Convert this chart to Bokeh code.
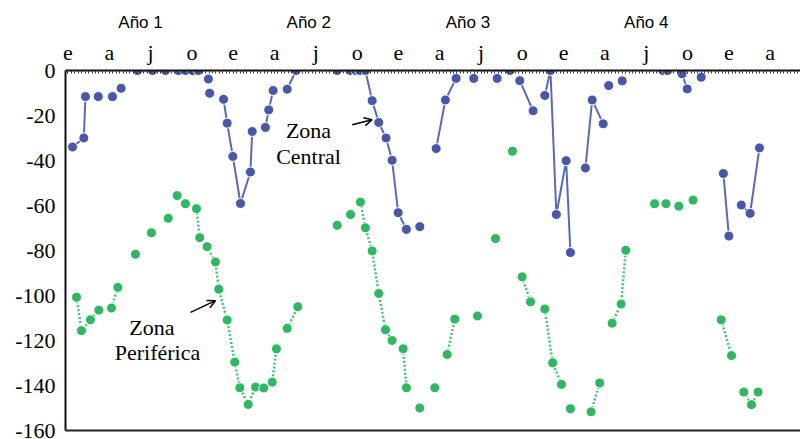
import math
from bokeh.plotting import figure
from bokeh.models import Range1d, FixedTicker, LinearAxis, Arrow, OpenHead, Label
from bokeh.embed import file_html
from bokeh.resources import INLINE

N = float("nan")

# ---- tick labels ----
month_ticks = list(range(0, 52, 3))
month_letters = ["e", "a", "j", "o"] * 4 + ["e", "a"]
year_pos = [5.27, 17.49, 29.05, 42.0]
year_labels = ["Año 1", "Año 2", "Año 3", "Año 4"]
y_ticks = [0, -20, -40, -60, -80, -100, -120, -140, -160]
y_tick_labels = ["0", "-20", "-40", "-60", "-80", "-100", "-120", "-140", "-160"]

# ---- Zona Central (month position, value); NaN breaks the line ----
central_x = [0.33, 1.15, 1.27, N, 2.2, N, 3.23, N, 3.86, N,
             5.05, 6.14, 7.08, 8.02, 8.53, 9.04, 9.48, N,
             10.2, N, 10.29, N,
             11.3, 11.56, 11.97, 12.53, 13.25, 13.38, N,
             14.34, 14.58, 14.9, N, 15.92, 16.57, N,
             19.55, 20.5, 20.9, 21.2, 21.6, 22.09, 22.57, 23.1, 23.54, 23.98, 24.58, N,
             25.55, N,
             26.74, 27.41, 28.19, N, 29.47, N, 31.17, N, 32.1, N,
             32.81, 33.78, N,
             34.63, 35.04, 35.47, 36.18, 36.49, N,
             37.58, 38.07, 38.87, N, 39.27, N, 40.25, N,
             43.2, 43.54, N, 44.6, 44.97, N, 45.99, N,
             47.6, 48.0, N, 48.9, 49.54, 50.22]
central_y = [-34, -30, -11.6, N, -11.6, N, -11.6, N, -7.9, N,
             0, 0, 0, 0, 0, 0, 0, N,
             -3.8, N, -10.1, N,
             -12.8, -23.4, -38.2, -59.1, -45.1, -27.1, N,
             -25.3, -17.5, -8.9, N, -8.3, 0, N,
             0, 0, 0, 0, 0, -13.4, -23.1, -30, -39.9, -63.2, -70.6, N,
             -69.4, N,
             -34.7, -13.1, -3.5, N, -3.5, N, -3.5, N, 0, N,
             -4.5, -17.9, N,
             -11.1, 0, -64, -40.1, -80.9, N,
             -43.3, -13.1, -23.7, N, -6.7, N, -4.6, N,
             0, 0, N, -1.5, -8.2, N, -3, N,
             -45.8, -73.6, N, -59.8, -63.5, -34.4]

# ---- Zona Periférica ----
periferica_x = [0.62, 0.98, 1.63, 2.24, N, 3.16, 3.62, N,
                4.9, N, 6.06, N, 7.28, N, 7.93, N, 8.53, N,
                9.33, 9.57, 10.1, 10.71, 10.95, 11.56, 12.11, 12.48, 13.09, 13.62, N,
                14.22, 14.83, 15.14, N, 15.92, 16.69, N,
                19.55, N, 20.52, N,
                21.24, 21.6, 22.09, 22.57, 23.06, 23.54, N,
                24.34, 24.58, N, 25.55, N, 26.64, N,
                27.54, 28.09, N, 29.74, N, 31.05, N, 32.28, N,
                32.98, 33.59, N,
                34.63, 35.2, 35.84, N, 36.49, N,
                37.99, 38.62, N,
                39.52, 40.17, 40.51, N,
                42.6, N, 43.43, N, 44.36, N, 45.4, N,
                47.44, 48.19, N,
                49.08, 49.64, 50.12]
periferica_y = [-100.8, -115.6, -110.8, -106.5, N, -105.6, -96.4, N,
                -81.7, N, -72.1, N, -65.7, N, -55.6, N, -59.2, N,
                -61.4, -74.3, -78.3, -85.1, -97.2, -110.9, -129.6, -141, -148.4, -140.7, N,
                -141.1, -138.5, -123.7, N, -114.6, -105, N,
                -68.8, N, -64, N,
                -58.5, -69.9, -80.2, -99.1, -115.2, -120, N,
                -123.7, -141, N, -150, N, -141, N,
                -126.2, -110.5, N, -109.1, N, -74.7, N, -35.9, N,
                -91.7, -102.8, N,
                -106, -129.9, -139.5, N, -150.3, N,
                -151.7, -138.9, N,
                -112.3, -103.8, -79.9, N,
                -59.2, N, -59.2, N, -60.3, N, -57.6, N,
                -110.8, -126.7, N,
                -142.9, -148.5, -142.9]

blue_marker = "#4857A7"
blue_line = "#5C67B6"
green_marker = "#2FB762"
green_line = "#45C077"

p = figure(width=800, height=439, output_backend="svg", toolbar_location=None,
           x_range=Range1d(-0.18, 53.2), y_range=Range1d(-160, 0),
           x_axis_location="above",
           min_border_left=65, min_border_right=0, min_border_top=70, min_border_bottom=9)
p.outline_line_color = None
p.grid.visible = False
p.background_fill_color = "white"
p.border_fill_color = "white"

# month axis (top)
ax = p.xaxis[0]
ax.ticker = FixedTicker(ticks=month_ticks,
                        minor_ticks=[i * 0.25 for i in range(0, 214)])
ax.major_label_overrides = {t: l for t, l in zip(month_ticks, month_letters)}
ax.major_label_text_font = "Liberation Serif"
ax.major_label_text_font_size = "22px"
ax.major_label_text_color = "black"
ax.major_label_standoff = 6
ax.axis_line_color = "#111111"
ax.axis_line_width = 2
ax.major_tick_in = 3
ax.major_tick_out = 0
ax.minor_tick_in = 3
ax.minor_tick_out = 0
ax.major_tick_line_color = "#333333"
ax.minor_tick_line_color = "#333333"

# year axis (outer top)
yr = LinearAxis(ticker=FixedTicker(ticks=year_pos, minor_ticks=[]))
yr.major_label_overrides = {t: l for t, l in zip(year_pos, year_labels)}
yr.major_label_text_font = "Liberation Sans"
yr.major_label_text_font_size = "17px"
yr.major_label_text_color = "black"
yr.major_label_standoff = 5
yr.axis_line_color = None
yr.major_tick_line_color = None
yr.minor_tick_line_color = None
yr.major_tick_out = 0
yr.major_tick_in = 0
p.add_layout(yr, "above")

# bottom border line
bt = LinearAxis(ticker=FixedTicker(ticks=[], minor_ticks=[]))
bt.axis_line_color = "#222222"
bt.axis_line_width = 2
bt.major_label_text_font_size = "0px"
bt.major_tick_out = 0
bt.major_label_standoff = 0
p.add_layout(bt, "below")

# left axis
la = p.yaxis[0]
la.ticker = FixedTicker(ticks=y_ticks, minor_ticks=[])
la.major_label_overrides = {t: l for t, l in zip(y_ticks, y_tick_labels)}
la.major_label_text_font = "Liberation Serif"
la.major_label_text_font_size = "22px"
la.major_label_text_color = "black"
la.major_label_standoff = 10
la.axis_line_color = "#111111"
la.axis_line_width = 2
la.major_tick_in = 0
la.major_tick_out = 0
la.minor_tick_line_color = None

# series
p.line(central_x, central_y, line_color=blue_line, line_width=2)
p.scatter(central_x, central_y, size=10, fill_color=blue_marker,
          line_color="white", line_width=1)
p.line(periferica_x, periferica_y, line_color=green_line, line_width=2.5,
       line_dash="2 2")
p.scatter(periferica_x, periferica_y, size=10, fill_color=green_marker,
          line_color="white", line_width=1)

# annotations
def lab(x, y, t):
    p.add_layout(Label(x=x, y=y, text=t, text_align="center",
                       text_baseline="middle", text_font="Liberation Serif",
                       text_font_size="22px", text_color="black"))

lab(17.47, -26.8, "Zona")
lab(17.47, -38.3, "Central")
lab(6.1, -114.0, "Zona")
lab(6.5, -125.5, "Periférica")

p.add_layout(Arrow(end=OpenHead(size=8, line_width=1.5, line_color="black"),
                   x_start=20.64, y_start=-24.1, x_end=22.09, y_end=-21.9,
                   line_width=1.5, line_color="black"))
p.add_layout(Arrow(end=OpenHead(size=8, line_width=1.5, line_color="black"),
                   x_start=8.9, y_start=-107.5, x_end=10.71, y_end=-102.3,
                   line_width=1.5, line_color="black"))

open("out.html", "w").write(file_html(p, INLINE))
